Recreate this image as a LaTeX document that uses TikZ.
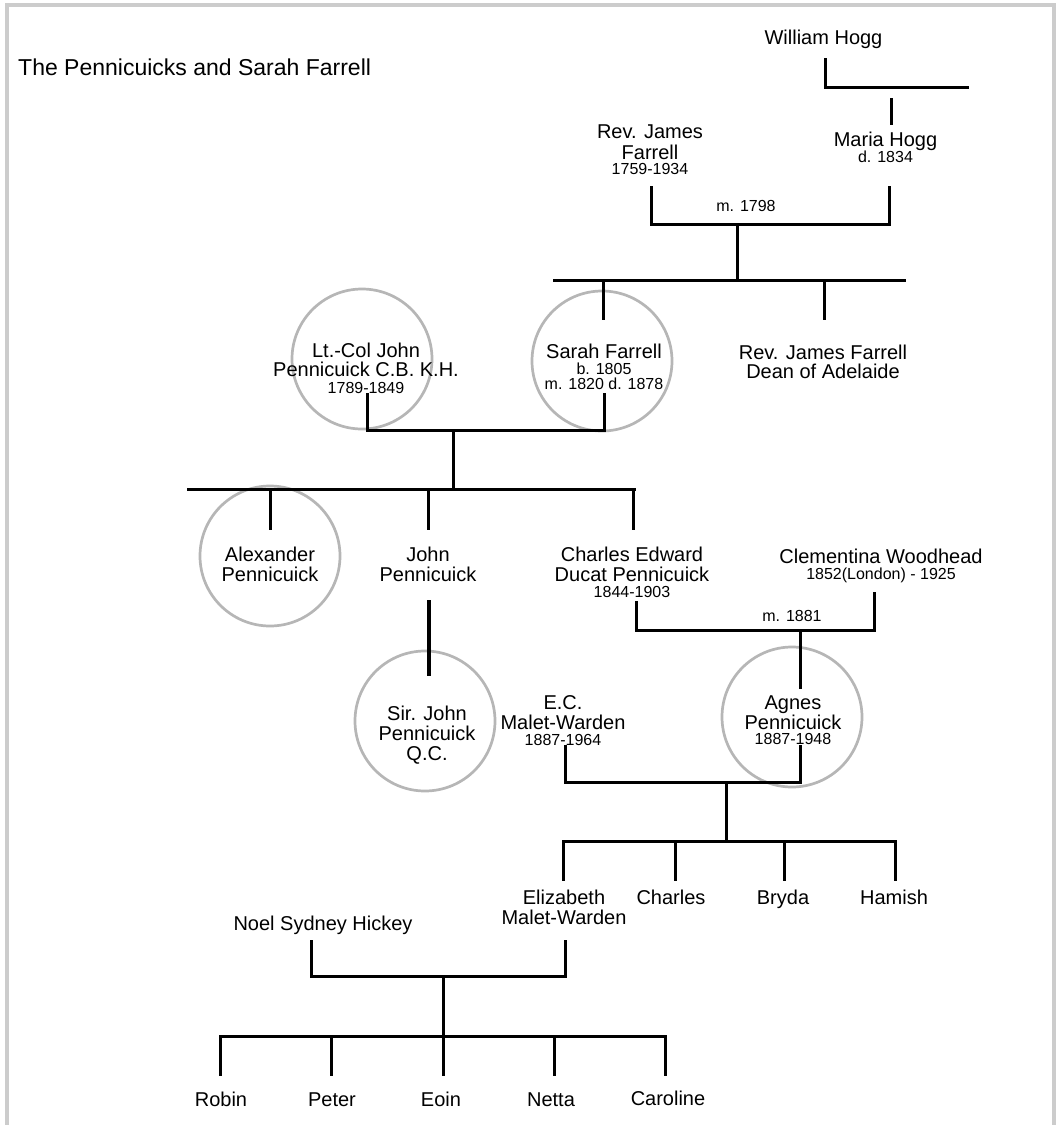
\documentclass[tikz,border=0pt]{standalone}
\usepackage{fontspec}
\setmainfont{Liberation Sans}
\definecolor{ringcol}{RGB}{182,182,182}
\definecolor{framecol}{RGB}{204,204,204}
\newcommand\nmfont{\fontsize{20}{20}\selectfont\lineskiplimit=-50pt\relax}
\newcommand\dtfont{\fontsize{16}{16}\selectfont}
\newcommand\ttlfont{\fontsize{23}{24}\selectfont}
\newcommand\nstrut{\rule{0pt}{15pt}}
\newcommand\dstrut{\rule{0pt}{12pt}}
\newcommand\tstrut{\rule{0pt}{17pt}}
\tikzset{
  person/.style={align=center, font=\nmfont, inner sep=0pt, anchor=north, yshift=7.8pt},
  datenote/.style={font=\dtfont, inner sep=0pt, anchor=north, yshift=6.2pt},
  ttlstyle/.style={font=\ttlfont, inner sep=0pt, anchor=north west, yshift=8.7pt},
  ringstyle/.style={circle, draw=ringcol, line width=2.7pt, minimum size=140pt, inner sep=0pt},
  tie/.style={draw=black, line width=3pt, line cap=rect},
  thicktie/.style={draw=black, line width=4.5pt},
  framestyle/.style={draw=framecol, line width=3.5pt}
}
\begin{document}
\begin{tikzpicture}[x=1pt, y=-1pt]
\useasboundingbox (0,0) rectangle (1060,1125);
% frame
\coordinate (frBL) at (7,1130); \coordinate (frTL) at (7,5);
\coordinate (frTR) at (1054,5); \coordinate (frBR) at (1054,1130);
\draw[framestyle] (frBL) -- (frTL) -- (frTR) -- (frBR);

% circles
\node[ringstyle] (ltcR) at (362,359) {};
\node[ringstyle] (sfR) at (602,361) {};
\node[ringstyle] (alR) at (270,556) {};
\node[ringstyle] (sjR) at (425,721) {};
\node[ringstyle] (agR) at (792,717) {};

% text
\node[ttlstyle] (title) at (18,67) {\tstrut The Pennicuicks and Sarah Farrell};
\node[person] (wh) at (823.5,37) {\nstrut William Hogg};
\node[person] (mh) at (885.5,139) {\nstrut Maria Hogg\\[-4.4pt]{\dtfont d. 1834}};
\node[person] (jf) at (650,131) {\nstrut Rev. James\\[1pt]Farrell\\[-4.8pt]{\dtfont 1759-1934}};
\node[datenote] (m1798) at (746,205) {\dstrut m. 1798};
\node[person] (sf) at (604,351) {\nstrut Sarah Farrell\\[-4.4pt]{\dtfont b. 1805}\\[-5pt]{\dtfont m. 1820 d. 1878}};
\node[person] (jfd) at (823,352) {\nstrut Rev. James Farrell\\[-1pt]Dean of Adelaide};
\node[person] (ltc) at (366,350) {\nstrut Lt.-Col John\\[-1pt]Pennicuick C.B. K.H.\\[-3.4pt]{\dtfont 1789-1849}};
\node[person] (alex) at (270,554) {\nstrut Alexander\\Pennicuick};
\node[person] (john) at (428,554) {\nstrut John\\Pennicuick};
\node[person] (ced) at (632,554) {\nstrut Charles Edward\\Ducat Pennicuick\\[-4.4pt]{\dtfont 1844-1903}};
\node[person] (cw) at (881,556) {\nstrut Clementina Woodhead\\[-4.4pt]{\dtfont 1852(London) - 1925}};
\node[datenote] (m1881) at (792,615) {\dstrut m. 1881};
\node[person] (sjp) at (427,713) {\nstrut Sir. John\\Pennicuick\\Q.C.};
\node[person] (ec) at (563,702) {\nstrut E.C.\\Malet-Warden\\[-4.4pt]{\dtfont 1887-1964}};
\node[person] (agnes) at (793,702) {\nstrut Agnes\\Pennicuick\\[-4.6pt]{\dtfont 1887-1948}};
\node[person] (eliz) at (564,897) {\nstrut Elizabeth\\Malet-Warden};
\node[person] (charles) at (671,897) {\nstrut Charles};
\node[person] (bryda) at (783,897) {\nstrut Bryda};
\node[person] (hamish) at (894,897) {\nstrut Hamish};
\node[person] (noel) at (323,923) {\nstrut Noel Sydney Hickey};
\node[person] (robin) at (221,1099) {\nstrut Robin};
\node[person] (peter) at (332,1099) {\nstrut Peter};
\node[person] (eoin) at (441,1099) {\nstrut Eoin};
\node[person] (netta) at (551,1099) {\nstrut Netta};
\node[person] (caroline) at (668,1098) {\nstrut Caroline};

% William Hogg -> Maria Hogg
\coordinate (whA) at (825,59); \coordinate (whB) at (967,87.5);
\draw[tie] (whA) |- (whB);
\coordinate (mhA) at (891,99); \coordinate (mhB) at (891,123);
\draw[tie] (mhA) -- (mhB);

% marriage 1798
\coordinate (jfS) at (651,187); \coordinate (mhS) at (889,187); \coordinate (m1) at (737,224);
\draw[tie] (jfS) |- (m1) -| (mhS);
\coordinate (b1) at (737,280); \draw[tie] (m1) -- (b1);
\coordinate (b1L) at (554,280); \coordinate (b1R) at (904,280);
\draw[tie] (b1L) -- (b1R);
\coordinate (sfT) at (603,318); \draw[tie] (sfT) -- (sfT |- b1L);
\coordinate (jfdT) at (824,318); \draw[tie] (jfdT) -- (jfdT |- b1L);

% marriage Lt.-Col John + Sarah
\coordinate (ltS) at (367,394); \coordinate (sfS) at (604,394); \coordinate (m2) at (453,430);
\draw[tie] (ltS) |- (m2) -| (sfS);
\coordinate (b2) at (453,489); \draw[tie] (m2) -- (b2);
\coordinate (b2L) at (188,489); \coordinate (b2R) at (634,489);
\draw[tie] (b2L) -- (b2R);
\coordinate (alT) at (270,528); \draw[tie] (alT) -- (alT |- b2L);
\coordinate (joT) at (428,528); \draw[tie] (joT) -- (joT |- b2L);
\coordinate (ceT) at (633,528); \draw[tie] (ceT) -- (ceT |- b2L);

% John -> Sir John
\coordinate (joS) at (429,600); \coordinate (sjT) at (429,676);
\draw[thicktie] (joS) -- (sjT);

% marriage 1881
\coordinate (ceS) at (636,602); \coordinate (cwS) at (874,593); \coordinate (m3) at (800,630);
\draw[tie] (ceS) |- (m3) -| (cwS);
\coordinate (agT) at (800,687); \draw[tie] (m3) -- (agT);

% E.C. Malet-Warden + Agnes
\coordinate (ecS) at (565,746); \coordinate (agS) at (800,746); \coordinate (m4) at (726,782);
\draw[tie] (ecS) |- (m4) -| (agS);
\coordinate (b4) at (726,841); \draw[tie] (m4) -- (b4);
\coordinate (b4L) at (563,841); \coordinate (b4R) at (895,841);
\draw[tie] (b4L) -- (b4R);
\coordinate (elT) at (563,879); \draw[tie] (elT) -- (elT |- b4L);
\coordinate (chT) at (675,879); \draw[tie] (chT) -- (chT |- b4L);
\coordinate (brT) at (784,879); \draw[tie] (brT) -- (brT |- b4L);
\coordinate (haT) at (895,879); \draw[tie] (haT) -- (haT |- b4L);

% Noel Sydney Hickey + Elizabeth
\coordinate (nsS) at (311,941); \coordinate (elS) at (565,941); \coordinate (m5) at (443,976);
\draw[tie] (nsS) |- (m5) -| (elS);
\coordinate (b5) at (443,1036); \draw[tie] (m5) -- (b5);
\coordinate (b5L) at (220,1036); \coordinate (b5R) at (665,1036);
\draw[tie] (b5L) -- (b5R);
\coordinate (roT) at (220,1074); \draw[tie] (roT) -- (roT |- b5L);
\coordinate (peT) at (331,1074); \draw[tie] (peT) -- (peT |- b5L);
\coordinate (eoT) at (443,1074); \draw[tie] (eoT) -- (eoT |- b5L);
\coordinate (neT) at (554,1074); \draw[tie] (neT) -- (neT |- b5L);
\coordinate (caT) at (665,1074); \draw[tie] (caT) -- (caT |- b5L);
\end{tikzpicture}
\end{document}
